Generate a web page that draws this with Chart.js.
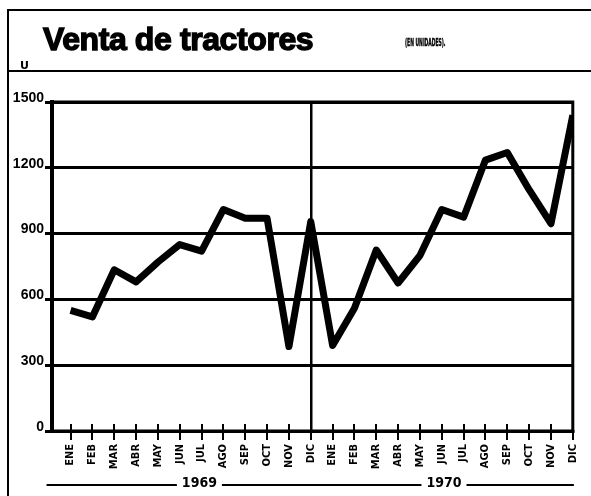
<!DOCTYPE html>
<html><head><meta charset="utf-8">
<script src="https://cdn.jsdelivr.net/npm/chart.js@4/dist/chart.umd.min.js"></script>
<style>
html,body{margin:0;padding:0;background:#fff;}
#wrap{position:relative;width:591px;height:496px;overflow:hidden;background:#fff;}
canvas{position:absolute;left:0;top:0;}
.t{position:absolute;white-space:nowrap;color:#000;}
#title{left:43px;top:23px;font:bold 32px "Liberation Sans",Arial,sans-serif;line-height:32px;-webkit-text-stroke:1.4px #000;letter-spacing:-0.4px;}
#sub{left:405px;top:38px;font:bold 10px "DejaVu Sans Condensed","DejaVu Sans",sans-serif;line-height:10px;transform:scaleX(0.5);transform-origin:0 0;-webkit-text-stroke:0.4px #000;}
#unit{left:20px;top:60px;font:bold 11px "DejaVu Sans",sans-serif;line-height:11px;}
.ln{position:absolute;background:#000;}
</style></head>
<body>
<div id="wrap">
<canvas id="c" width="591" height="496"></canvas>
<div class="ln" style="left:7px;top:9px;width:584px;height:2px;"></div>
<div class="ln" style="left:7px;top:9px;width:2px;height:487px;"></div>
<div class="ln" style="left:7px;top:70px;width:584px;height:2px;"></div>
<div class="t" id="title">Venta de tractores</div>
<div class="t" id="sub">(EN UNIDADES).</div>
<div class="t" id="unit">U</div>
</div>
<script>
const monthLabels = ['ENE','FEB','MAR','ABR','MAY','JUN','JUL','AGO','SEP','OCT','NOV','DIC'];
const years = ['1969','1970'];
const sales1969 = [550, 520, 735, 680, 770, 850, 820, 1010, 970, 970, 385, 955];
const sales1970 = [390, 560, 825, 675, 800, 1010, 975, 1235, 1270, 1100, 945, 1440];
const yTicks = [0, 300, 600, 900, 1200, 1500];

const categories = monthLabels.concat(monthLabels);
const values = sales1969.concat(sales1970);
const points = values.map((v, i) => ({x: i, y: v}));

const framePlugin = {
  id: 'frame',
  afterDraw(chart) {
    const {ctx, chartArea: a, scales: {x}} = chart;
    ctx.save();
    ctx.strokeStyle = '#000';
    ctx.lineWidth = 3;
    ctx.strokeRect(a.left, a.top, a.right - a.left, a.bottom - a.top);
    ctx.lineWidth = 2;
    for (let i = 0; i < categories.length; i++) {
      const px = Math.round(x.getPixelForValue(i));
      ctx.beginPath();
      ctx.moveTo(px, a.bottom - 7);
      ctx.lineTo(px, a.bottom + 9);
      ctx.stroke();
    }
    ctx.font = 'bold 14px "DejaVu Sans Condensed", "DejaVu Sans", sans-serif';
    ctx.textAlign = 'center';
    ctx.textBaseline = 'middle';
    ctx.fillStyle = '#000';
    const centers = [5.9, 17.1];
    const spans = [[-1.1, 10.9], [10.6, 23.05]];
    const ty = a.bottom + 52, ly = a.bottom + 54;
    years.forEach((yr, k) => {
      const cx = x.getPixelForValue(centers[k]);
      const w = ctx.measureText(yr).width / 2 + 5;
      const x0 = x.getPixelForValue(spans[k][0]);
      const x1 = x.getPixelForValue(spans[k][1]);
      ctx.fillText(yr, cx, ty);
      ctx.lineWidth = 2;
      ctx.beginPath();
      ctx.moveTo(x0, ly); ctx.lineTo(cx - w, ly);
      ctx.moveTo(cx + w, ly); ctx.lineTo(x1, ly);
      ctx.stroke();
    });
    ctx.restore();
  }
};

new Chart(document.getElementById('c'), {
  type: 'line',
  data: {
    datasets: [{
      label: 'Venta de tractores',
      data: points,
      borderColor: '#000',
      backgroundColor: '#000',
      borderWidth: 7,
      pointRadius: 0,
      tension: 0,
      borderJoinStyle: 'round',
      borderCapStyle: 'butt',
      fill: false
    }]
  },
  options: {
    responsive: false,
    animation: false,
    devicePixelRatio: 1,
    layout: {padding: {top: 102, right: 8, left: 0, bottom: 0}},
    plugins: {legend: {display: false}, tooltip: {enabled: false}, title: {display: false}},
    scales: {
      x: {
        type: 'linear', min: -0.85, max: 23,
        afterBuildTicks: s => { s.ticks = categories.map((c, i) => ({value: i})); },
        afterFit: s => { s.height = 65; },
        grid: {
          color: c => (c.tick && c.tick.value === 11) ? '#000' : 'rgba(0,0,0,0)',
          lineWidth: 2.5, tickLength: 8, tickColor: 'rgba(0,0,0,0)'
        },
        border: {display: true, color: '#000', width: 3},
        ticks: {
          autoSkip: false, minRotation: 90, maxRotation: 90, padding: 5, color: '#000',
          font: {family: '"DejaVu Sans Condensed", "DejaVu Sans", sans-serif', weight: 'bold', size: 11},
          callback: v => categories[v]
        }
      },
      y: {
        min: 0, max: 1500,
        afterBuildTicks: s => { s.ticks = yTicks.map(v => ({value: v})); },
        afterFit: s => { s.width = 52; },
        grid: {color: '#000', lineWidth: 3, tickLength: 7, tickColor: '#000'},
        border: {display: true, color: '#000', width: 4},
        ticks: {
          color: '#000', padding: 1, labelOffset: -4,
          font: {family: '"Liberation Sans", Arial, sans-serif', weight: 'bold', size: 14},
          callback: v => String(v)
        }
      }
    }
  },
  plugins: [framePlugin]
});
</script>
</body></html>
